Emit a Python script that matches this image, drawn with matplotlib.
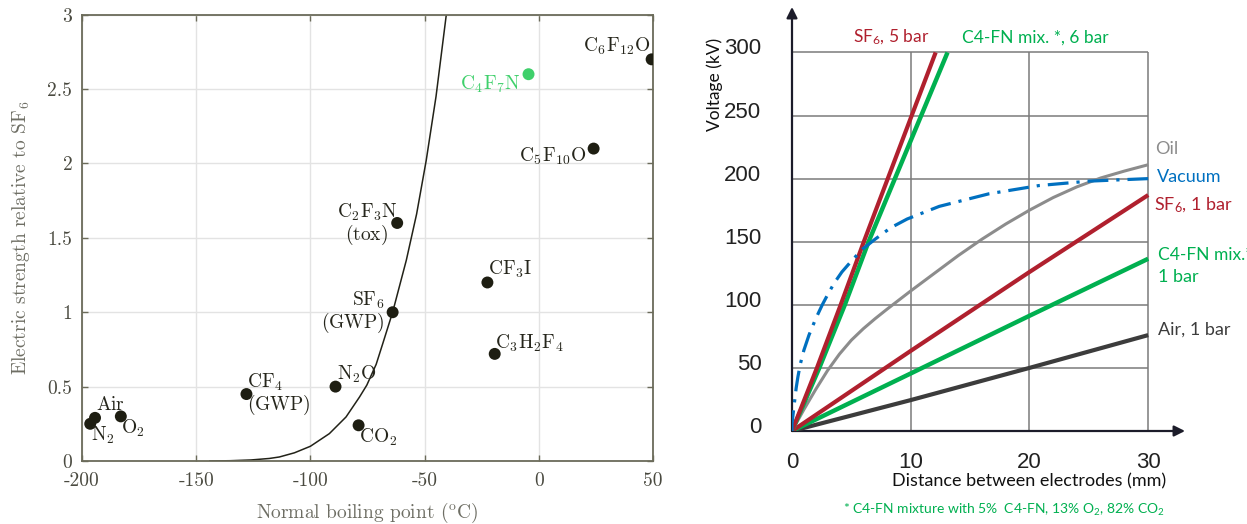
import numpy as np
import matplotlib
matplotlib.use("Agg")
import matplotlib.pyplot as plt
import matplotlib.transforms as mtransforms
from matplotlib.ticker import FuncFormatter

# ---- left panel data: normal boiling point vs electric strength ----
gas_names = ["Air", "N2", "O2", "CF4", "N2O", "CO2", "SF6", "C2F3N",
             "CF3I", "C3H2F4", "C4F7N", "C5F10O", "C6F12O"]
gas_labels = [r"$\mathrm{Air}$", r"$\mathrm{N_2}$", r"$\mathrm{O_2}$",
              "$\\mathrm{CF_4}$\n$\\mathrm{(GWP)}$", r"$\mathrm{N_2O}$", r"$\mathrm{CO_2}$",
              "$\\mathrm{SF_6}$\n$\\mathrm{(GWP)}$", "$\\mathrm{C_2F_3N}$\n$\\mathrm{(tox)}$",
              r"$\mathrm{CF_3I}$", r"$\mathrm{C_3H_2F_4}$", r"$\mathrm{C_4F_7N}$",
              r"$\mathrm{C_5F_{10}O}$", r"$\mathrm{C_6F_{12}O}$"]
boiling_pt = [-194.3, -196.4, -183.0, -128.0, -89.0, -78.9, -64.0, -62.0,
              -22.5, -19.3, -4.5, 24.0, 49.4]
strength = [0.29, 0.25, 0.30, 0.45, 0.50, 0.24, 1.00, 1.60,
            1.20, 0.72, 2.60, 2.10, 2.70]

curve_x = [-144, -135, -126, -118, -113.6, -107, -100, -91.7, -84.4, -78.5, -75.3,
           -71.2, -68.3, -64, -58, -53.5, -49.3, -45, -40.5]
curve_y = [0, 0.002, 0.007, 0.017, 0.027, 0.055, 0.099, 0.184, 0.296, 0.43, 0.51,
           0.65, 0.79, 1.0, 1.35, 1.66, 2.02, 2.45, 3.0]

# ---- right panel data: breakdown voltage vs gap ----
sf6_5bar_x = [0, 2.1, 4.1, 6.05, 12.1]
sf6_5bar_y = [0, 50, 100, 150, 300]
c4fn_6bar_x = [0, 2.3, 4.45, 6.45, 13.1]
c4fn_6bar_y = [0, 50, 100, 150, 300]
oil_x = [0, 1, 2, 3, 4, 5, 6, 7, 8, 10, 12, 14, 16, 18, 20, 22, 24, 26, 28, 30]
oil_y = [0, 17, 33, 48, 61, 72, 81, 89, 96.5, 111, 125, 139, 152, 164, 175, 185,
         193.5, 200.5, 206, 211]
vac_x = [0, 0, 0.1, 0.2, 0.35, 0.5, 0.7, 1.0, 1.43, 2.0, 2.55, 3.0, 3.54, 4.2, 4.94,
         5.92, 7.0, 8.3, 9.7, 12.4, 16.6, 20.8, 25, 30]
vac_y = [0, 6, 14, 22, 34, 43, 53, 64, 76, 89, 100, 108, 117, 126, 134,
         144, 152, 161, 168, 178, 188, 194.5, 198, 200]
sf6_1bar_x = [0, 10, 20, 30]
sf6_1bar_y = [0, 63.5, 126, 187]
c4fn_1bar_x = [0, 10, 20, 30]
c4fn_1bar_y = [0, 45.6, 91.3, 136.5]
air_x = [0, 10, 20, 30]
air_y = [0, 24.5, 50, 76]
volt_ticks = [0, 50, 100, 150, 200, 250, 300]
dist_ticks = [0, 10, 20, 30]

RED = "#B0202E"
GREEN = "#00B050"
BLUE = "#0070C0"
OILGRAY = "#8C8C8C"
AIRGRAY = "#3C3C3C"

plt.rcParams["axes.unicode_minus"] = False
plt.rcParams["mathtext.fontset"] = "custom"
plt.rcParams["mathtext.rm"] = "Lato"
plt.rcParams["mathtext.it"] = "Lato:italic"
plt.rcParams["mathtext.bf"] = "Lato:bold"

W, H = 1247, 524
fig = plt.figure(figsize=(W / 100, H / 100), dpi=100)


def fx(px):
    return px / W


def fy(py):
    return 1 - py / H


# ================= left panel =================
ax1 = fig.add_axes([fx(82), fy(461), fx(653) - fx(82), fy(14.7) - fy(461)])
ax1.set_xlim(-200, 50)
ax1.set_ylim(0, 3)
ax1.set_xticks(np.arange(-200, 51, 50))
ax1.set_yticks(np.arange(0, 3.01, 0.5))
ax1.yaxis.set_major_formatter(FuncFormatter(lambda v, p: "%g" % v))
ax1.grid(True, color="#e3e3e3", lw=1.0)
ax1.set_axisbelow(True)
spine_col = "#6b6b5a"
for s in ax1.spines.values():
    s.set_color(spine_col)
    s.set_linewidth(1.3)
ax1.tick_params(direction="in", length=4, width=1, color=spine_col,
                top=True, right=True, labelsize=14, labelcolor="#4a4a40")
ax1.tick_params(axis="x", pad=8)
ax1.tick_params(axis="y", pad=7)
for lab in ax1.get_xticklabels() + ax1.get_yticklabels():
    lab.set_family("cmr10")

ax1.plot(curve_x, curve_y, color="#222218", lw=1.1, zorder=2)

dot_cols = ["#1e1e12"] * len(gas_names)
dot_cols[gas_names.index("C4F7N")] = "#3fd06b"
ax1.scatter(boiling_pt, strength, s=74, c=dot_cols, zorder=3, linewidths=0)

label_layout = {
    "Air": ((1, 13), "left", "left"),
    "N2": ((1, -11), "left", "left"),
    "O2": ((0, -12), "left", "left"),
    "CF4": ((1, 0), "left", "left"),
    "N2O": ((1, 12), "left", "left"),
    "CO2": ((0, -12), "left", "left"),
    "SF6": ((-8, 0), "right", "right"),
    "C2F3N": ((0, -1), "right", "center"),
    "CF3I": ((1, 13), "left", "left"),
    "C3H2F4": ((0, 11), "left", "left"),
    "C4F7N": ((-8, -10), "right", "right"),
    "C5F10O": ((-7, -8), "right", "right"),
    "C6F12O": ((-1, 13), "right", "right"),
}
for name, lab, bx, by in zip(gas_names, gas_labels, boiling_pt, strength):
    off, ha, ma = label_layout[name]
    col = "#3fd06b" if name == "C4F7N" else "#26261c"
    ax1.annotate(lab, (bx, by), xytext=off, textcoords="offset pixels",
                 ha=ha, va="center", multialignment=ma, fontsize=14,
                 color=col, math_fontfamily="cm", linespacing=1.0, zorder=4,
                 annotation_clip=False)

ax1.set_xlabel(r"Normal boiling point ($^{\mathrm{o}}$C)", fontsize=14,
               family="cmr10", math_fontfamily="cm", color="#6e6e64", labelpad=8)
ax1.set_ylabel(r"Electric strength relative to SF$_{\mathrm{6}}$", fontsize=14,
               family="cmr10", math_fontfamily="cm", color="#6e6e64", labelpad=11)

# ================= right panel =================
x_end, y_end = 33.1, 336
ax2 = fig.add_axes([fx(792), fy(431), fx(1185) - fx(792), fy(7) - fy(431)])
ax2.set_xlim(0, x_end)
ax2.set_ylim(0, y_end)
for s in ax2.spines.values():
    s.set_visible(False)
ax2.patch.set_alpha(0)

grid_col = "#7a7a7a"
ax2.hlines(volt_ticks[1:], 0, 30, color=grid_col, lw=1.1, zorder=1)
ax2.vlines(dist_ticks[1:], 0, 300, color=grid_col, lw=1.1, zorder=1)

axis_col = "#1c1c2a"
ax2.annotate("", xy=(x_end, 0), xytext=(0, 0),
             arrowprops=dict(arrowstyle="-|>", color=axis_col, lw=1.6,
                             mutation_scale=16, shrinkA=0, shrinkB=0),
             annotation_clip=False, zorder=2)
ax2.annotate("", xy=(0, y_end), xytext=(0, 0),
             arrowprops=dict(arrowstyle="-|>", color=axis_col, lw=1.6,
                             mutation_scale=16, shrinkA=0, shrinkB=0),
             annotation_clip=False, zorder=2)

ax2.plot(air_x, air_y, color=AIRGRAY, lw=3.0, zorder=3, solid_capstyle="butt")
ax2.plot(c4fn_1bar_x, c4fn_1bar_y, color=GREEN, lw=3.2, zorder=3, solid_capstyle="butt")
ax2.plot(sf6_1bar_x, sf6_1bar_y, color=RED, lw=3.0, zorder=3, solid_capstyle="butt")
ax2.plot(oil_x, oil_y, color=OILGRAY, lw=2.2, zorder=3, solid_capstyle="butt")
ax2.plot(c4fn_6bar_x, c4fn_6bar_y, color=GREEN, lw=3.2, zorder=3, solid_capstyle="butt")
ax2.plot(sf6_5bar_x, sf6_5bar_y, color=RED, lw=3.0, zorder=4, solid_capstyle="butt")
ax2.plot(vac_x, vac_y, color=BLUE, lw=2.3, zorder=5,
         linestyle=(0, (6.5, 2.5, 1, 2.5)), dash_capstyle="butt")

ax2.set_xticks(dist_ticks)
ax2.set_yticks(volt_ticks)
ax2.tick_params(length=0, labelsize=16, labelcolor="#222222")
ax2.tick_params(axis="x", pad=15)
ax2.tick_params(axis="y", pad=22)
for lab in ax2.get_xticklabels() + ax2.get_yticklabels():
    lab.set_family("Liberation Sans")
shift = mtransforms.ScaledTranslation(0, 6 / 100, fig.dpi_scale_trans)
for lab in ax2.get_yticklabels():
    lab.set_transform(lab.get_transform() + shift)

txt = dict(family="Lato", va="center", ha="left")
fig.text(fx(1155), fy(149), "Oil", color=OILGRAY, fontsize=13, **txt)
fig.text(fx(1157), fy(177), "Vacuum", color=BLUE, fontsize=13, **txt)
fig.text(fx(1154), fy(205), r"SF$_6$, 1 bar", color=RED, fontsize=13, **txt)
fig.text(fx(1158), fy(255), "C4-FN mix.*", color=GREEN, fontsize=12.5, **txt)
fig.text(fx(1158), fy(277), "1 bar", color=GREEN, fontsize=13, **txt)
fig.text(fx(1158), fy(330), "Air, 1 bar", color=AIRGRAY, fontsize=13, **txt)
fig.text(fx(852.7), fy(37.3), r"SF$_6$, 5 bar", color=RED, fontsize=12.5, **txt)
fig.text(fx(961.7), fy(37.3), "C4-FN mix. *, 6 bar", color=GREEN, fontsize=12.5, **txt)

fig.text(fx(715), fy(84), "Voltage (kV)", rotation=90, family="Lato",
         fontsize=12.5, color="#111111", ha="center", va="center")
fig.text(fx(1028.8), fy(481.7), "Distance between electrodes (mm)", family="Lato",
         fontsize=13, color="#111111", ha="center", va="center")
fig.text(fx(1004), fy(510), r"* C4-FN mixture with 5%  C4-FN, 13% O$_2$, 82% CO$_2$",
         family="Lato", fontsize=10, color=GREEN, ha="center", va="center")

fig.savefig("out.png", dpi=100)
